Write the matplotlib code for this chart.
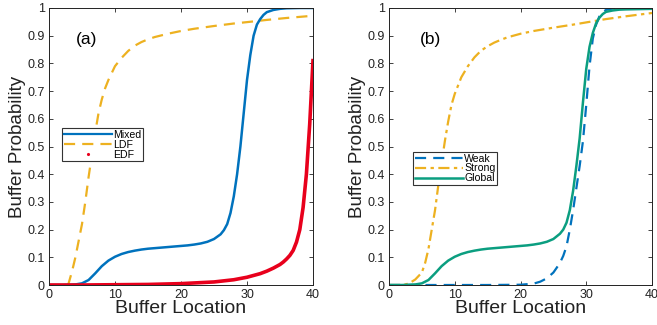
import matplotlib
matplotlib.use('Agg')
import matplotlib.pyplot as plt
from matplotlib.lines import Line2D

plt.rcParams['font.family'] = ['Liberation Sans', 'DejaVu Sans']

# panel (a)
mixed_x = [0, 2, 4, 5, 6, 7, 8, 9, 10, 11, 12, 13, 14, 15, 16, 17, 18, 19, 20, 21, 22, 23, 24, 25,
           26, 26.5, 27, 27.5, 28, 28.5, 29, 29.5, 30, 30.5, 31, 31.5, 32, 32.5, 33, 34, 35, 36, 38, 40]
mixed_y = [0, 0, 0.002, 0.006, 0.018, 0.042, 0.068, 0.088, 0.102, 0.112, 0.119, 0.124, 0.128, 0.131,
           0.133, 0.135, 0.137, 0.139, 0.141, 0.143, 0.146, 0.150, 0.156, 0.166, 0.183, 0.198, 0.22,
           0.26, 0.32, 0.40, 0.50, 0.62, 0.74, 0.83, 0.90, 0.94, 0.96, 0.975, 0.985, 0.993, 0.997,
           0.999, 1.0, 1.0]

ldf_x = [0, 1, 2, 2.9, 3.5, 4, 4.5, 5, 5.5, 6, 6.5, 7, 7.5, 8, 8.5, 9, 10, 11, 12, 13, 14, 15, 16,
         17, 18, 20, 22, 25, 28, 30, 33, 36, 40]
ldf_y = [0, 0, 0, 0, 0.05, 0.1, 0.16, 0.22, 0.3, 0.39, 0.47, 0.55, 0.62, 0.67, 0.71, 0.74, 0.79,
         0.82, 0.845, 0.864, 0.877, 0.887, 0.895, 0.901, 0.907, 0.917, 0.925, 0.935, 0.944, 0.949,
         0.957, 0.964, 0.972]

edf_x = [0, 5, 10, 15, 20, 25, 28, 30, 32, 33, 34, 35, 35.5, 36, 36.5, 37, 37.5, 38, 38.5, 39,
         39.5, 40]
edf_y = [0, 0, 0.001, 0.002, 0.005, 0.011, 0.019, 0.028, 0.041, 0.05, 0.061, 0.074, 0.083, 0.094,
         0.107, 0.125, 0.155, 0.2, 0.28, 0.4, 0.58, 0.81]

# panel (b)
weak_x = [0, 5, 10, 15, 20, 22, 23, 24, 25, 25.5, 26, 26.5, 27, 27.5, 28, 28.5, 29, 29.5, 30, 30.5,
          31, 31.5, 32, 32.5, 33, 34, 35, 40]
weak_y = [0, 0, 0, 0, 0.001, 0.005, 0.012, 0.024, 0.045, 0.062, 0.08, 0.105, 0.14, 0.2, 0.27, 0.35,
          0.43, 0.52, 0.65, 0.79, 0.89, 0.94, 0.97, 0.985, 0.993, 0.998, 1.0, 1.0]

strong_x = [0, 2, 3, 4, 5, 5.5, 6, 6.5, 7, 7.5, 8, 8.5, 9, 9.5, 10, 11, 12, 13, 14, 15, 16, 17, 18,
            20, 22, 25, 28, 30, 33, 36, 40]
strong_y = [0, 0, 0.005, 0.02, 0.045, 0.08, 0.13, 0.2, 0.27, 0.36, 0.44, 0.52, 0.59, 0.65, 0.69,
            0.75, 0.79, 0.822, 0.846, 0.862, 0.875, 0.885, 0.894, 0.907, 0.917, 0.929, 0.94, 0.948,
            0.96, 0.97, 0.982]

global_x = mixed_x
global_y = [0, 0, 0.002, 0.006, 0.018, 0.042, 0.068, 0.088, 0.102, 0.112, 0.119, 0.124, 0.128, 0.131,
            0.133, 0.135, 0.137, 0.139, 0.141, 0.143, 0.146, 0.150, 0.156, 0.166, 0.185, 0.2, 0.225,
            0.27, 0.34, 0.43, 0.53, 0.66, 0.78, 0.86, 0.91, 0.945, 0.965, 0.978, 0.986, 0.991, 0.994,
            0.995, 0.996, 0.997]

blue = '#0072BD'
orange = '#EDB120'
red = '#E8001C'
teal = '#0B9E80'

fig = plt.figure(figsize=(6.57, 3.25), dpi=100)
W, H = 657.0, 325.0
ax1 = fig.add_axes([49 / W, (H - 285) / H, 264 / W, 277 / H])
ax2 = fig.add_axes([389 / W, (H - 285) / H, 263 / W, 277 / H])

legend_kw = dict(loc='upper left', fontsize=7.6, frameon=True, fancybox=False, edgecolor='#333333',
                 framealpha=1, borderpad=0.15, labelspacing=-0.02, handlelength=4.6,
                 handletextpad=0.1, borderaxespad=0)

ax1.plot(ldf_x, ldf_y, color=orange, lw=1.6, dashes=(5, 3.2))
ax1.plot(mixed_x, mixed_y, color=blue, lw=1.8)
ax1.plot(edf_x, edf_y, color=red, lw=2.6)
h1 = [Line2D([], [], color=blue, lw=1.6),
      Line2D([], [], color=orange, lw=1.6, dashes=(5, 3.2)),
      Line2D([], [], color=red, ls='none', marker='.', ms=2.5)]
ax1.legend(h1, ['Mixed', 'LDF', 'EDF'], bbox_to_anchor=(0.049, 0.565),
           **legend_kw).get_frame().set_linewidth(0.8)
ax1.text(0.1, 0.885, '(a)', transform=ax1.transAxes, fontsize=12.5, va='center')

ax2.plot(strong_x, strong_y, color=orange, lw=1.6, dashes=(5, 2, 1.5, 2))
ax2.plot(weak_x, weak_y, color=blue, lw=1.6, dashes=(5, 3.2))
ax2.plot(global_x, global_y, color=teal, lw=1.8)
h2 = [Line2D([], [], color=blue, lw=1.6, dashes=(5, 3.2)),
      Line2D([], [], color=orange, lw=1.6, dashes=(5, 2, 1.5, 2)),
      Line2D([], [], color=teal, lw=1.8)]
ax2.legend(h2, ['Weak', 'Strong', 'Global'], bbox_to_anchor=(0.091, 0.48),
           **legend_kw).get_frame().set_linewidth(0.8)
ax2.text(0.117, 0.885, '(b)', transform=ax2.transAxes, fontsize=12.5, va='center')

for ax in (ax1, ax2):
    ax.set_xlim(0, 40)
    ax.set_ylim(0, 1)
    ax.set_xticks([0, 10, 20, 30, 40])
    ax.set_yticks([i / 10 for i in range(11)])
    ax.set_yticklabels(['0', '0.1', '0.2', '0.3', '0.4', '0.5', '0.6', '0.7', '0.8', '0.9', '1'])
    ax.tick_params(direction='in', top=True, right=True, labelsize=9, length=3, width=0.6,
                   colors='#222222', pad=3)
    for s in ax.spines.values():
        s.set_linewidth(0.7)
        s.set_color('#222222')
    ax.set_xlabel('Buffer Location', fontsize=14, labelpad=-1, color='#222222')
    ax.set_ylabel('Buffer Probability', fontsize=13.5, labelpad=1, color='#222222')

fig.savefig('out.png', dpi=100)
